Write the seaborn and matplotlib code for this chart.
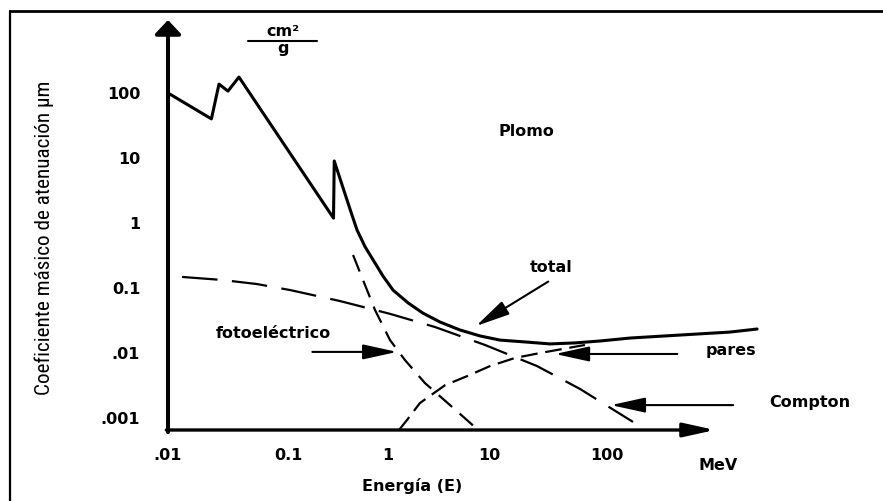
import numpy as np
import matplotlib
matplotlib.use("Agg")
import matplotlib.pyplot as plt
from matplotlib.lines import Line2D
from matplotlib.ticker import NullLocator
from matplotlib import font_manager
import seaborn as sns

# Mass attenuation coefficient of lead (cm^2/g) versus photon energy (MeV)
total_E = [0.01, 0.023, 0.0266, 0.0316, 0.039, 0.285, 0.29, 0.33, 0.42, 0.49,
           0.59, 0.71, 0.89, 1.12, 1.58, 2.22, 3.27, 5.16, 8.15, 12.4, 20.2,
           32.9, 53.6, 87, 157, 416, 1100, 1870]
total_mu = [100, 40, 137, 107, 176, 1.19, 9.0, 4.9, 1.58, 0.78,
            0.43, 0.27, 0.153, 0.093, 0.059, 0.041, 0.030, 0.0226, 0.0183, 0.0158, 0.0148,
            0.0138, 0.0143, 0.0153, 0.0170, 0.0189, 0.0210, 0.0234]

photo_E = [0.447, 0.589, 0.741, 1.047, 1.47, 2.32, 4.11, 7.43]
photo_mu = [0.322, 0.111, 0.0459, 0.0158, 0.0078, 0.00345, 0.00158, 0.0007]

compton_E = [0.0131, 0.0282, 0.0552, 0.105, 0.331, 1.05, 2.92, 9.12, 25.5, 59, 166]
compton_mu = [0.148, 0.133, 0.115, 0.093, 0.063, 0.040, 0.0251, 0.0133, 0.0063, 0.0028, 0.00087]

pairs_E = [1.28, 1.54, 2.07, 3.67, 6.05, 10.2, 16.6, 27.1, 65]
pairs_mu = [0.00065, 0.00093, 0.0017, 0.0032, 0.0044, 0.0063, 0.0084, 0.0100, 0.0133]

x_ticks = [0.01, 0.1, 1, 10, 100]
x_tick_labels = [".01", "0.1", "1", "10", "100"]
y_ticks = [100, 10, 1, 0.1, 0.01]
y_tick_labels = ["100", "10", "1", "0.1", ".01"]
y_low_tick = [0.001]
y_low_label = [".001"]

sns.set_style("white")
plt.rcParams["font.family"] = ["DejaVu Sans"]

# Narrow face for the vertical axis title, if one is available
installed = {f.name for f in font_manager.fontManager.ttflist}
narrow = [n for n in ("Liberation Sans Narrow", "Roboto Condensed", "Open Sans Condensed")
          if n in installed]
if narrow:
    ylab_family, ylab_size = [narrow[0], "DejaVu Sans"], 15.2
else:
    ylab_family, ylab_size = ["Roboto", "DejaVu Sans"], 13.5

W, H, DPI = 883, 501, 100
fig = plt.figure(figsize=(W / DPI, H / DPI), dpi=DPI)
ax = fig.add_axes([168 / W, 1 - 430 / H, 547 / W, 410 / H])

# Energy axis: logarithmic, with the hand-drawn (uneven) spacing of the decades
dec_log = np.arange(-4, 5, dtype=float)
dec_pos = np.array([-238, -120, 0, 120, 220, 321, 439, 557, 675], dtype=float)


def energy_fwd(v):
    v = np.asarray(v, dtype=float)
    safe = np.where(v > 0, v, 1e-10)
    return np.interp(np.log10(safe), dec_log, dec_pos)


def energy_inv(p):
    return 10.0 ** np.interp(np.asarray(p, dtype=float), dec_pos, dec_log)


ax.set_xscale("function", functions=(energy_fwd, energy_inv))
ax.set_yscale("log")

line_kw = dict(ax=ax, color="black", estimator=None, sort=False, clip_on=False)
sns.lineplot(x=total_E, y=total_mu, linewidth=2.2, **line_kw)
sns.lineplot(x=photo_E, y=photo_mu, linewidth=1.6, linestyle=(0, (8, 4.5)), **line_kw)
sns.lineplot(x=compton_E, y=compton_mu, linewidth=1.6, linestyle=(0, (16, 6.5)), **line_kw)
sns.lineplot(x=pairs_E, y=pairs_mu, linewidth=1.6, linestyle=(0, (7.5, 3.5)), **line_kw)

ax.set_xlim(0.01, 822)
ax.set_ylim(6.54e-4, 1328)

tick_font = dict(fontsize=11.5, fontweight="bold")
ax.set_xticks(x_ticks)
ax.set_xticklabels(x_tick_labels, **tick_font)
ax.xaxis.set_minor_locator(NullLocator())
ax.set_yticks(y_ticks)
ax.set_yticklabels(y_tick_labels, **tick_font)
ax.set_yticks(y_low_tick, minor=True)
ax.set_yticklabels(y_low_label, minor=True, **tick_font)

ax.tick_params(axis="y", which="major", direction="inout", length=18, width=1.8,
               pad=11, colors="black")
ax.tick_params(axis="y", which="minor", length=0, pad=20, colors="black")
ax.tick_params(axis="x", which="major", direction="inout", length=11.5, width=1.8,
               pad=7, colors="black")
ax.set_xlabel("")
ax.set_ylabel("")
ax.grid(False)
for sp in ax.spines.values():
    sp.set_visible(False)
ax.patch.set_alpha(0)

# Axis lines with arrowheads
ax.annotate("", xy=(1, 0), xytext=(-0.003, 0), xycoords="axes fraction",
            arrowprops=dict(arrowstyle="-|>,head_length=1.9,head_width=0.42",
                            mutation_scale=10, lw=2.4, color="black",
                            shrinkA=0, shrinkB=0), annotation_clip=False)
ax.annotate("", xy=(0, 1), xytext=(0, -0.005), xycoords="axes fraction",
            arrowprops=dict(arrowstyle="-|>,head_length=0.85,head_width=0.8",
                            mutation_scale=10, lw=2.9, color="black",
                            shrinkA=0, shrinkB=0), annotation_clip=False)

# Pointer arrows to each curve
ptr = dict(arrowstyle="-|>,head_length=2.1,head_width=0.46", mutation_scale=10,
           lw=1.5, color="black", shrinkA=0, shrinkB=0)
ax.annotate("", xy=(7.43, 0.026), xytext=(52, 32), textcoords="offset points",
            arrowprops=ptr, annotation_clip=False)
ax.annotate("", xy=(1.23, 0.0104), xytext=(-61, 0), textcoords="offset points",
            arrowprops=ptr, annotation_clip=False)
ax.annotate("", xy=(36.3, 0.00966), xytext=(88, 0), textcoords="offset points",
            arrowprops=ptr, annotation_clip=False)
ax.annotate("", xy=(108, 0.00158), xytext=(88, 0), textcoords="offset points",
            arrowprops=ptr, annotation_clip=False)


def put(x, y, s, **kw):
    kw.setdefault("ha", "center")
    kw.setdefault("va", "center")
    fig.text(x / W, 1 - y / H, s, **kw)


label_font = dict(fontsize=11.5, fontweight="bold", color="black")
put(526, 131, "Plomo", **label_font)
put(551, 268, "total", **label_font)
put(273, 333, "fotoeléctrico", **label_font)
put(731, 350, "pares", **label_font)
put(810, 403, "Compton", **label_font)
put(718, 465, "MeV", **label_font)
put(412, 486, "Energía (E)", **label_font)

# Unit of the vertical axis as a fraction
put(283, 31, "cm²", **label_font)
put(283, 48, "g", **label_font)
fig.add_artist(Line2D([248 / W, 317 / W], [1 - 41 / H, 1 - 41 / H], lw=1.5, color="black"))

put(44, 238, "Coeficiente másico de atenuación μm", rotation=90, fontsize=ylab_size,
    family=ylab_family, color="black")

# Outer frame
fig.add_artist(Line2D([10 / W, 1.0], [1 - 11 / H, 1 - 11 / H], lw=2, color="black"))
fig.add_artist(Line2D([10 / W, 10 / W], [0.0, 1 - 11 / H], lw=1.6, color="black"))

fig.savefig("out.png", dpi=DPI)
